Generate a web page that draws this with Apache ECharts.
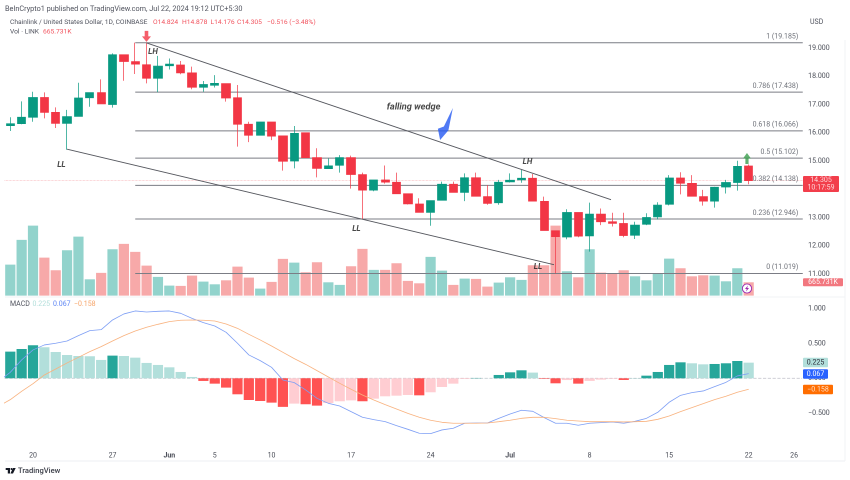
<!DOCTYPE html>
<html><head><meta charset="utf-8">
<style>html,body{margin:0;padding:0;background:#fff}#c{width:850px;height:480px}</style>
<script src="https://cdn.jsdelivr.net/npm/echarts@6/dist/echarts.min.js"></script>
</head><body><div id="c"></div>
<script>
const FONT = 'Roboto';
const dayLabels = {2:'20',9:'27',14:'Jun',18:'5',23:'10',30:'17',37:'24',44:'Jul',51:'8',58:'15',65:'22',69:'26'};
const opens  = [16.25,16.32,16.55,17.25,16.72,16.33,16.58,17.24,17.42,17.0,18.76,18.52,18.41,17.93,18.37,18.40,18.12,17.61,17.68,17.74,17.24,16.3,15.91,16.38,15.89,15.0,16.0,15.12,14.73,14.85,15.12,14.52,13.97,14.33,14.25,13.84,13.48,13.18,13.61,14.18,13.89,14.41,13.74,13.52,14.26,14.33,14.39,13.57,12.53,12.31,13.18,12.35,13.12,12.85,12.79,12.37,12.76,13.02,13.47,14.40,14.21,13.74,13.58,14.08,14.24,14.824];
const closes = [16.32,16.55,17.25,16.72,16.33,16.57,17.23,17.42,17.02,18.76,18.52,18.43,17.93,18.36,18.43,18.12,17.61,17.71,17.75,17.23,16.30,15.91,16.38,15.88,14.99,15.98,15.12,14.74,14.83,15.12,14.52,13.97,14.33,14.25,13.84,13.48,13.18,13.6,14.18,13.89,14.41,13.75,13.5,14.25,14.32,14.39,13.58,12.54,12.32,13.18,12.34,13.12,12.85,12.79,12.36,12.73,13.0,13.44,14.40,14.21,13.75,13.58,14.07,14.24,14.81,14.305];
const lows   = [16.06,16.30,16.39,16.51,16.17,15.40,16.58,16.92,17.02,16.89,17.84,18.08,17.75,17.44,18.24,18.07,17.54,17.45,17.6,17.10,15.51,15.67,15.91,15.74,14.66,14.74,15.12,14.42,14.73,14.59,14.02,12.93,13.93,14.2,13.84,13.46,13.17,12.71,13.6,13.89,13.58,13.75,13.45,13.45,14.24,14.23,13.58,12.54,11.02,12.23,12.30,11.79,12.73,12.68,12.3,12.24,12.73,12.93,13.43,13.82,13.75,13.42,13.35,13.85,13.95,14.176];
const highs  = [16.55,17.11,17.45,17.43,16.90,16.81,17.77,17.42,17.89,18.81,18.76,19.19,19.19,18.72,18.63,18.54,18.34,17.83,18.04,17.74,17.69,16.39,16.38,16.38,15.89,16.24,16.0,15.45,15.09,15.21,15.19,14.59,14.33,14.84,14.59,13.84,13.68,13.6,14.27,14.27,14.56,14.59,14.15,14.33,14.56,14.68,14.54,13.74,12.53,13.29,13.18,13.525,13.32,13.17,13.17,12.85,13.15,13.54,14.5,14.6,14.5,13.98,14.09,14.33,15.01,14.878];
const volumes = [1550,2785,3500,1900,1265,2265,2950,815,1135,2315,2585,2185,1500,935,500,485,1000,700,565,765,1450,900,350,685,1835,1650,1165,1665,665,535,1465,2335,1285,1285,1615,735,615,1935,1250,535,850,835,450,650,915,785,1515,1515,3500,1215,915,2315,1150,1100,1265,965,765,1085,1850,1365,965,1015,1000,715,1365,665.731];
const histogram = [.384,.422,.475,.446,.379,.336,.321,.317,.264,.326,.321,.297,.221,.192,.158,.091,.019,-.038,-.077,-.134,-.23,-.312,-.326,-.35,-.412,-.365,-.374,-.393,-.355,-.331,-.317,-.331,-.293,-.259,-.25,-.24,-.245,-.201,-.125,-.077,-.01,.005,.002,.048,.086,.115,.082,-.008,-.072,-.025,-.077,-.038,-.019,-.008,-.024,.002,.038,.091,.192,.23,.216,.201,.206,.216,.249,.225];
const macdPrev = -.04, signalPrev = -.40;
const macdLine = [.086,.264,.408,.48,.504,.537,.614,.686,.70,.839,.926,.969,.954,.964,.969,.935,.863,.801,.753,.662,.504,.336,.254,.158,-.024,-.062,-.168,-.288,-.36,-.398,-.48,-.561,-.595,-.624,-.681,-.734,-.791,-.796,-.743,-.719,-.647,-.643,-.643,-.576,-.513,-.46,-.475,-.566,-.647,-.647,-.676,-.647,-.638,-.629,-.647,-.619,-.576,-.489,-.345,-.245,-.206,-.182,-.12,-.058,.034,.067];
const signalLine = [-.307,-.187,-.077,.048,.134,.221,.302,.384,.456,.537,.614,.681,.734,.777,.815,.835,.839,.835,.825,.782,.719,.633,.552,.465,.374,.283,.201,.110,.019,-.072,-.158,-.24,-.312,-.379,-.441,-.504,-.561,-.604,-.633,-.647,-.647,-.647,-.643,-.624,-.604,-.576,-.561,-.561,-.58,-.604,-.614,-.624,-.624,-.624,-.628,-.624,-.619,-.59,-.542,-.48,-.422,-.365,-.307,-.259,-.201,-.158];
const fibLevels = [['1',19.185],['0.786',17.438],['0.618',16.066],['0.5',15.102],['0.382',14.138],['0.236',12.946],['0',11.019]];
const fibStart = 11, fibEnd = 69.76;
const trendLines = [[[12,19.18],[52.88,13.63]],[[5,15.42],[47.86,11.33]]];
const notes = [[12.56,18.86,'LH'],[4.5,14.86,'LL'],[30.47,12.59,'LL'],[45.53,14.96,'LH'],[46.45,11.25,'LL'],[35.5,16.91,'falling wedge']];
const priceTicks = [11,12,13,15,16,17,18,19];
const macdTicks = [-.5,0,.5,1];

const CAT = Array.from({length:71},(_,i)=>i);
const UP='#089981', DOWN='#f23645';
const VUP='#92d3cc', VDOWN='#f7a9a9';
const ink='#4a4d57';
function histColor(v,i){
  const p=i?histogram[i-1]:-1;
  if(v>=0) return v>p?'#26a69a':'#b2dfdb';
  return v<p?'#ff5252':'#ffcdd2';
}
const left=4.6, W=806.56;
const pairs=(first,arr)=>[[-1,first]].concat(arr.map((v,i)=>[i,v]));
function hiddenCat(g){return {type:'category',gridIndex:g,data:CAT,show:false};}
function hiddenVal(g){return {type:'value',gridIndex:g,min:-.5,max:70.5,show:false};}
const series=[
 {type:'bar',name:'Vol',xAxisIndex:2,yAxisIndex:1,barWidth:10.2,z:1,silent:true,
  data:volumes.map((v,i)=>({value:v,itemStyle:{color:closes[i]>=opens[i]?VUP:VDOWN}}))},
 {type:'candlestick',name:'Price',xAxisIndex:0,yAxisIndex:0,barWidth:8.8,z:5,silent:true,
  data:opens.map((o,i)=>[o,closes[i],lows[i],highs[i]]),
  itemStyle:{color:UP,color0:DOWN,borderColor:UP,borderColor0:DOWN,borderWidth:.7}},
 {type:'line',xAxisIndex:1,yAxisIndex:0,symbol:'none',z:2,silent:true,data:[[-.5,14.305],[69.8,14.305]],
  lineStyle:{color:'#f9b5b9',width:.7,type:'dotted'}},
];
fibLevels.forEach(([n,v])=>{
  series.push({type:'line',xAxisIndex:1,yAxisIndex:0,symbol:'none',z:3,silent:true,
    data:[[fibStart,v],[fibEnd,v]],lineStyle:{color:'#7b7d85',width:1}});
});
series.push({type:'scatter',xAxisIndex:1,yAxisIndex:0,symbolSize:1,z:8,silent:true,itemStyle:{color:'transparent'},
  data:fibLevels.map(([n,v])=>({value:[fibEnd,v],label:{show:true,position:'top',align:'right',distance:2,offset:[-4.5,0],
    formatter:n+' ('+v.toFixed(3)+')',fontSize:7,fontFamily:FONT,color:ink}}))});
trendLines.forEach(t=>series.push({type:'line',xAxisIndex:1,yAxisIndex:0,symbol:'none',z:6,silent:true,data:t,lineStyle:{color:'#55575e',width:.9}}));
series.push({type:'scatter',xAxisIndex:1,yAxisIndex:0,symbolSize:1,z:8,silent:true,itemStyle:{color:'transparent'},
  data:notes.map(n=>({value:[n[0],n[1]],label:{show:true,position:'inside',formatter:n[2],fontSize:n[2].length>2?9.2:8,fontWeight:'bold',fontStyle:'italic',fontFamily:FONT,color:'#1a1a1a'}}))});
const arrowDown='path://M30 0H70V50H100L50 100L0 50H30Z', arrowUp='path://M50 0L100 50H70V100H30V50H0Z', arrowBlue='path://M100 0L70 70L15 100L0 65L40 58Z';
series.push({type:'scatter',xAxisIndex:1,yAxisIndex:0,silent:true,z:9,symbol:arrowDown,symbolSize:[9,11],symbolKeepAspect:false,itemStyle:{color:'#f23645'},data:[[11.99,19.41]]});
series.push({type:'scatter',xAxisIndex:1,yAxisIndex:0,silent:true,z:9,symbol:arrowUp,symbolSize:[8,11],symbolKeepAspect:false,itemStyle:{color:'#3a9d4c'},data:[[64.85,15.09]]});
series.push({type:'scatter',xAxisIndex:1,yAxisIndex:0,silent:true,z:9,symbol:arrowBlue,symbolSize:[15,32],symbolKeepAspect:false,itemStyle:{color:'#2459f2'},data:[[38.3,16.31]]});
// MACD pane
series.push({type:'bar',name:'Hist',xAxisIndex:3,yAxisIndex:2,barWidth:10.2,z:2,silent:true,
  data:histogram.map((v,i)=>({value:v,itemStyle:{color:histColor(v,i)}}))});
series.push({type:'line',xAxisIndex:4,yAxisIndex:2,symbol:'none',z:1,silent:true,data:[[-.5,0],[69.7,0]],lineStyle:{color:'#c9c9d1',width:.8,type:'dashed'}});
series.push({type:'line',name:'MACD',xAxisIndex:4,yAxisIndex:2,symbol:'none',z:4,silent:true,data:pairs(macdPrev,macdLine),lineStyle:{color:'#7e9ff5',width:.8}});
series.push({type:'line',name:'Signal',xAxisIndex:4,yAxisIndex:2,symbol:'none',z:4,silent:true,data:pairs(signalPrev,signalLine),lineStyle:{color:'#f9b27e',width:.8}});

const texts=[
 [5,9,'BeInCrypto1 published on TradingView.com, Jul 22, 2024 19:12 UTC+5:30','#50535e',7.3],
 [10,22.5,'Chainlink / United States Dollar, 1D, COINBASE','#50535e',6.7],
 [153,22.5,'O14.824','#f2545f',6.7],[182,22.5,'H14.878','#f2545f',6.7],[210.5,22.5,'L14.176','#f2545f',6.7],[237,22.5,'C14.305','#f2545f',6.7],
 [267,22.5,'\u22120.516 (\u22123.48%)','#f2545f',6.7],
 [10,32,'Vol \u00b7 LINK','#50535e',6.7],[43,32,'665.731K','#f2545f',6.7],
 [810,22,'USD','#50535e',7],
 [10,304,'MACD','#50535e',7],[32.5,304,'0.225','#b2dfdb',7],[53,304,'0.067','#5b84f5',7],[74,304,'\u22120.158','#f7a468',7],
];
const graphic=texts.map(t=>({type:'text',x:t[0],y:t[1],style:{text:t[2],fill:t[3],font:t[4]+'px '+FONT,textVerticalAlign:'middle'},silent:true}));
const rightTags=[
 [803,184,36,16,'#f23e4b','14.305\n10:17:59','#ffd9dc'],
 [803,282.3,40,8,'#f2777f','665.731K','#fff'],
 [803,362.5,25,9.5,'#b2dfdb','0.225','#2a2e39'],
 [803,374,25,9.5,'#2962ff','0.067','#fff'],
 [803,389.5,30,9.5,'#ff6d00','\u22120.158','#ffe2cc'],
];
rightTags.forEach(r=>{
  graphic.push({type:'rect',z:50,shape:{x:r[0],y:r[1]-r[3]/2,width:r[2],height:r[3],r:1},style:{fill:r[4]},silent:true});
  graphic.push({type:'text',z:51,x:r[0]+r[2]/2,y:r[1],style:{text:r[5],fill:r[6],font:'7px '+FONT,lineHeight:7.6,textAlign:'center',textVerticalAlign:'middle'},silent:true});
});
// frame
graphic.push({type:'line',shape:{x1:5,y1:461,x2:845,y2:461},style:{stroke:'#eef0f4',lineWidth:1},silent:true,z:0});
graphic.push({type:'line',shape:{x1:845,y1:40,x2:845,y2:461},style:{stroke:'#f2f3f6',lineWidth:1},silent:true,z:0});
graphic.push({type:'line',shape:{x1:5,y1:297,x2:845,y2:297},style:{stroke:'#f2f3f6',lineWidth:1},silent:true,z:0});
// lightning badge
graphic.push({type:'circle',z:40,shape:{cx:747,cy:288.5,r:4.6},style:{fill:'#fff',stroke:'#9c27b0',lineWidth:.9},silent:true});
graphic.push({type:'polygon',z:41,shape:{points:[[748,285.5],[745,289],[746.8,289],[746,291.5],[749,288],[747.2,288]]},style:{fill:'#9c27b0'},silent:true});
// TradingView logo
graphic.push({type:'polygon',shape:{points:[[5.7,468],[10,468],[10,473.5],[7.8,473.5],[7.8,470],[5.7,470]]},style:{fill:'#131722'},silent:true});
graphic.push({type:'circle',shape:{cx:11.5,cy:469,r:1},style:{fill:'#131722'},silent:true});
graphic.push({type:'polygon',shape:{points:[[13,468],[15.7,468],[13,473.5],[10.4,473.5]]},style:{fill:'#131722'},silent:true});
graphic.push({type:'text',x:18,y:471,style:{text:'TradingView',fill:'#3a3d47',font:'500 7.6px '+FONT,textVerticalAlign:'middle'},silent:true});

const chart=echarts.init(document.getElementById('c'),null,{renderer:'canvas',devicePixelRatio:2});
chart.setOption({
  animation:false,backgroundColor:'#fff',
  grid:[
    {left:left,width:W,top:19.75,height:282.5},
    {left:left,width:W,top:200,height:95.6},
    {left:left,width:W,top:308.8,height:139},
  ],
  xAxis:[hiddenCat(0),hiddenVal(0),hiddenCat(1),
    {type:'category',gridIndex:2,data:CAT,axisLine:{show:false},axisTick:{show:false},splitLine:{show:false},
     axisLabel:{interval:0,margin:4.5,hideOverlap:false,fontSize:7,fontFamily:FONT,color:ink,
       formatter:v=>{const s=dayLabels[v];if(!s)return '';return (s==='Jun'||s==='Jul')?'{b|'+s+'}':s;},
       rich:{b:{fontSize:7,fontWeight:'bold',fontFamily:FONT,color:ink}}}},
    hiddenVal(2)],
  yAxis:[
    {type:'value',gridIndex:0,position:'right',min:10,max:20,interval:1,axisLine:{show:false},axisTick:{show:false},splitLine:{show:false},
     axisLabel:{margin:-3,fontSize:7,fontFamily:FONT,color:ink,formatter:v=>priceTicks.includes(v)?v.toFixed(3):''}},
    {type:'value',gridIndex:1,min:0,max:4780,show:false},
    {type:'value',gridIndex:2,position:'right',min:-1,max:1,interval:.5,axisLine:{show:false},axisTick:{show:false},splitLine:{show:false},
     axisLabel:{margin:-3,fontSize:7,fontFamily:FONT,color:ink,formatter:v=>macdTicks.includes(v)?(v<0?'\u2212':'')+Math.abs(v).toFixed(3):''}},
  ],
  series:series,
  graphic:graphic
});
</script></body></html>
